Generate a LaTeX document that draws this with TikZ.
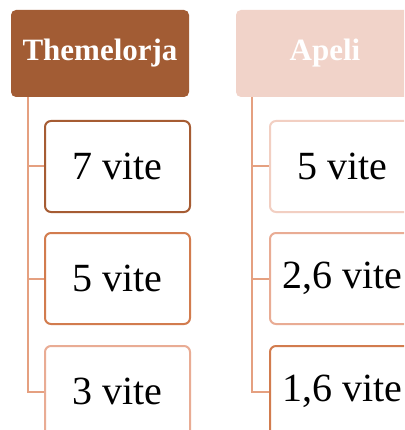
\documentclass[tikz,border=0pt]{standalone}
\usepackage{fontspec}
\setmainfont{Liberation Serif}
\usetikzlibrary{calc}
\definecolor{hdark}{RGB}{162,92,52}
\definecolor{hlight}{RGB}{241,211,201}
\definecolor{conn}{RGB}{229,160,128}
\definecolor{bdark}{RGB}{166,92,51}
\definecolor{bmid}{RGB}{210,124,78}
\definecolor{blight}{RGB}{233,172,148}
\definecolor{bpale}{RGB}{242,207,194}
\tikzset{
  header/.style={rectangle, rounded corners=5pt, minimum width=178pt, minimum height=87pt,
    inner sep=0pt, text=white, font=\fontsize{31}{36}\selectfont\bfseries},
  itembox/.style={rectangle, rounded corners=6pt, draw, line width=2pt, fill=white,
    minimum width=145pt, minimum height=91pt, inner sep=0pt, font=\fontsize{40}{46}\selectfont},
  connector/.style={draw=conn, line width=2pt}
}
\begin{document}
\begin{tikzpicture}[x=1pt,y=-1pt]
\useasboundingbox (0,0) rectangle (404,430);
\clip (0,0) rectangle (404,430);
\fill[white] (0,0) rectangle (404,430);
% headers
\node[header, fill=hdark] (h1) at (100,53.5) {Themelorja};
\node[header, fill=hlight] (h2) at (325,53.5) {Apeli};
% left column
\node[itembox, draw=bdark] (a1) at (117.5,166.5) {7 vite};
\node[itembox, draw=bmid] (a2) at (117.5,278.5) {5 vite};
\node[itembox, draw=blight] (a3) at (117.5,391.5) {3 vite};
% right column
\node[itembox, draw=bpale] (b1) at (342.5,166.5) {5 vite};
\node[itembox, draw=blight] (b2) at (342.5,278.5) {2,6 vite};
\node[itembox, draw=bmid] (b3) at (342.5,391.5) {1,6 vite};
% connectors
\coordinate (l0) at ($(h1.south west)+(17,0)$);
\coordinate (r0) at ($(h2.south west)+(16,0)$);
\begin{scope}[on background layer/.try]
\end{scope}
\draw[connector] (l0) |- (a1.west);
\draw[connector] (l0) |- (a2.west);
\draw[connector] (l0) |- (a3.west);
\draw[connector] (r0) |- (b1.west);
\draw[connector] (r0) |- (b2.west);
\draw[connector] (r0) |- (b3.west);
\end{tikzpicture}
\end{document}
